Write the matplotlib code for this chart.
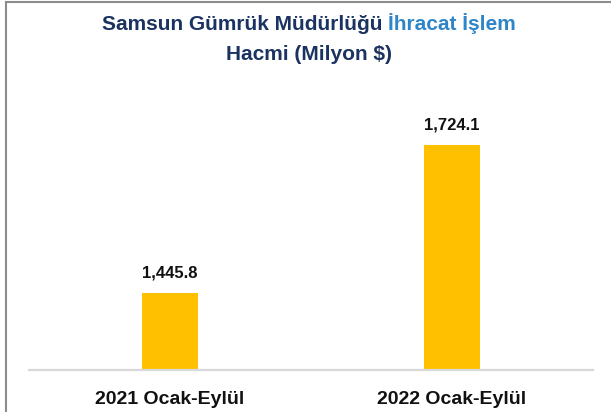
import matplotlib
matplotlib.use("Agg")
import matplotlib.pyplot as plt
from matplotlib.lines import Line2D

categories = ["2021 Ocak-Eylül", "2022 Ocak-Eylül"]
values = [1445.8, 1724.1]
value_labels = ["1,445.8", "1,724.1"]
title_dark = "Samsun Gümrük Müdürlüğü "
title_blue = "İhracat İşlem"
title_line2 = "Hacmi (Milyon $)"

plt.rcParams['font.family'] = ['Liberation Sans', 'DejaVu Sans']

W, H = 611, 412
fig = plt.figure(figsize=(W / 100, H / 100), dpi=100)
fig.patch.set_facecolor('white')

ax = fig.add_axes([29 / W, (H - 370) / H, 564 / W, 265 / H])
x = [0, 1]
ax.bar(x, values, width=56 / 282, color='#FFC000', zorder=2)
ax.set_xlim(-0.5, 1.5)
ax.set_ylim(1300, 1800)
ax.set_yticks([])
ax.set_xticks(x)
ax.set_xticklabels(categories, fontsize=14, fontweight='bold', color='#111111')
ax.tick_params(axis='x', length=0, pad=15)
for s in ['top', 'right', 'left']:
    ax.spines[s].set_visible(False)
ax.spines['bottom'].set_color('#D9D9D9')
ax.spines['bottom'].set_linewidth(1.6)

for xi, v, lab in zip(x, values, value_labels):
    ax.annotate(lab, (xi, v), xytext=(0, 11), textcoords='offset points',
                ha='center', va='baseline', fontsize=12, fontweight='bold',
                color='#111111')

# Title (two colours on first line)
navy = '#1B3361'
blue = '#2E86C8'
fs = 15
t1 = fig.text(0, 0, title_dark, fontsize=fs, fontweight='bold', color=navy)
t2 = fig.text(0, 0, title_blue, fontsize=fs, fontweight='bold', color=blue)
fig.canvas.draw()
r = fig.canvas.get_renderer()
w1 = t1.get_window_extent(r).width
w2 = t2.get_window_extent(r).width
cx = 309
start = cx - (w1 + w2) / 2
y1 = (H - 30) / H
t1.set_position((start / W, y1))
t2.set_position(((start + w1) / W, y1))
t1.set_va('baseline')
t2.set_va('baseline')
fig.text(cx / W, (H - 60) / H, title_line2, fontsize=fs, fontweight='bold',
         color=navy, ha='center', va='baseline')

# frame lines (left and top)
fig.add_artist(Line2D([6 / W, 6 / W], [0, 1 - 2 / H], color='#8C8C8C', lw=1.5,
                      transform=fig.transFigure))
fig.add_artist(Line2D([6 / W, 1], [1 - 2 / H, 1 - 2 / H], color='#8C8C8C', lw=1.5,
                      transform=fig.transFigure))

fig.savefig('out.png', dpi=100)
